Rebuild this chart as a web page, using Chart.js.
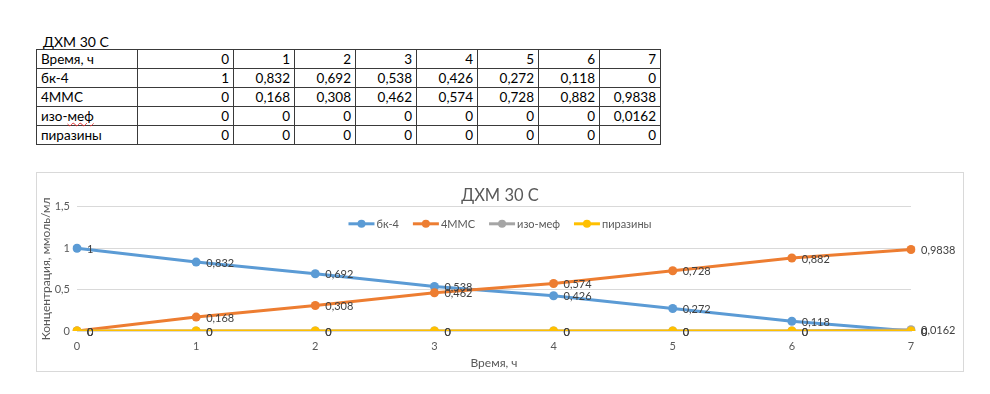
<!DOCTYPE html>
<html lang="ru">
<head>
    <meta charset="UTF-8">
    <title>ДХМ 30 С</title>
    <script src="https://cdn.jsdelivr.net/npm/chart.js"></script>
    <style>
        body { margin: 0; background: #fff; font-family: Lato, "Open Sans", sans-serif; }
        #sheetTitle { position: absolute; left: 43px; top: 33px; font-size: 14px; color: #000; }
        #dataTable { position: absolute; left: 36px; top: 49px; border-collapse: collapse; font-size: 13.5px; color: #000; }
        #dataTable td { border: 1px solid #3a3a3a; height: 18px; padding: 0 4px; white-space: nowrap; line-height: 18px; }
        #dataTable td.num { text-align: right; }
        .spell { text-decoration: underline wavy #e03030; text-decoration-thickness: 1px; }
        #chartBox { position: absolute; left: 36px; top: 172px; width: 926px; height: 198px; border: 1px solid #d9d9d9; }
    </style>
</head>
<body>
    <div id="sheetTitle">ДХМ 30 С</div>
    <table id="dataTable"></table>

    <div id="chartBox">
        <canvas id="concChart" width="926" height="198"></canvas>
    </div>

    <script>
        // данные из таблицы
        const chartTitle = 'ДХМ 30 С';
        const times = [0, 1, 2, 3, 4, 5, 6, 7];
        const seriesNames = ['бк-4', '4MMC', 'изо-меф', 'пиразины'];
        const bk4 = [1, 0.832, 0.692, 0.538, 0.426, 0.272, 0.118, 0];
        const mmc = [0, 0.168, 0.308, 0.462, 0.574, 0.728, 0.882, 0.9838];
        const isoMef = [0, 0, 0, 0, 0, 0, 0, 0.0162];
        const pyrazines = [0, 0, 0, 0, 0, 0, 0, 0];
        const yTicks = [0, 0.5, 1, 1.5];

        const seriesValues = [bk4, mmc, isoMef, pyrazines];
        const seriesColors = ['#5B9BD5', '#ED7D31', '#A5A5A5', '#FFC000'];

        const fmt = v => String(v).replace('.', ',');

        // таблица над графиком
        const table = document.getElementById('dataTable');
        const widths = [101, 96, 61, 61, 61, 61, 61, 61, 61];
        function addRow(label, values, html) {
            const tr = document.createElement('tr');
            const th = document.createElement('td');
            th.style.width = (widths[0] - 9) + 'px';
            if (html) th.innerHTML = html; else th.textContent = label;
            tr.appendChild(th);
            values.forEach((v, i) => {
                const td = document.createElement('td');
                td.className = 'num';
                td.style.width = (widths[i + 1] - 9) + 'px';
                td.textContent = fmt(v);
                tr.appendChild(td);
            });
            table.appendChild(tr);
        }
        addRow('Время, ч', times);
        addRow(seriesNames[0], bk4);
        addRow(seriesNames[1], mmc);
        addRow(seriesNames[2], isoMef, 'изо-<span class="spell">меф</span>');
        addRow(seriesNames[3], pyrazines);

        const labelFont = '11px Lato, sans-serif';

        // легенда как в Excel: линия с маркером, поверх области построения
        const excelLegend = {
            id: 'excelLegend',
            afterDraw(chart) {
                const ctx = chart.ctx;
                const iconW = 26, gap = 2, spacing = 14;
                ctx.save();
                ctx.font = labelFont;
                const items = chart.data.datasets.map(ds => ({
                    ds, w: iconW + gap + ctx.measureText(ds.label).width
                }));
                const total = items.reduce((s, it) => s + it.w, 0) + spacing * (items.length - 1);
                let x = chart.width / 2 - total / 2;
                const y = chart.chartArea.top + 17;
                items.forEach(it => {
                    ctx.strokeStyle = it.ds.borderColor;
                    ctx.fillStyle = it.ds.borderColor;
                    ctx.lineWidth = 3;
                    ctx.beginPath(); ctx.moveTo(x, y); ctx.lineTo(x + iconW, y); ctx.stroke();
                    ctx.beginPath(); ctx.arc(x + iconW / 2, y, 4, 0, Math.PI * 2); ctx.fill();
                    ctx.fillStyle = '#595959';
                    ctx.textAlign = 'left';
                    ctx.textBaseline = 'middle';
                    ctx.fillText(it.ds.label, x + iconW + gap, y + 1);
                    x += it.w + spacing;
                });
                ctx.restore();
            }
        };

        // подписи значений справа от точек
        const pointLabels = {
            id: 'pointLabels',
            afterDatasetsDraw(chart) {
                const ctx = chart.ctx;
                ctx.save();
                ctx.font = labelFont;
                ctx.fillStyle = '#404040';
                ctx.textAlign = 'left';
                ctx.textBaseline = 'middle';
                chart.data.datasets.forEach((ds, i) => {
                    chart.getDatasetMeta(i).data.forEach((pt, j) => {
                        ctx.fillText(fmt(ds.data[j]), pt.x + 10, pt.y + 1);
                    });
                });
                ctx.restore();
            }
        };

        const ctx = document.getElementById('concChart').getContext('2d');
        new Chart(ctx, {
            type: 'line',
            data: {
                labels: times,
                datasets: seriesNames.map((name, i) => ({
                    label: name,
                    data: seriesValues[i],
                    borderColor: seriesColors[i],
                    backgroundColor: seriesColors[i],
                    borderWidth: 3,
                    pointRadius: 4.5,
                    pointBorderWidth: 0,
                    tension: 0,
                    fill: false,
                    order: seriesNames.length - i
                }))
            },
            options: {
                responsive: false,
                devicePixelRatio: 1,
                animation: false,
                layout: { padding: 0 },
                plugins: {
                    title: {
                        display: true,
                        text: chartTitle,
                        color: '#595959',
                        font: { family: 'Lato', size: 16.5, weight: 'normal' },
                        padding: { top: 13, bottom: 1 }
                    },
                    legend: { display: false },
                    tooltip: { enabled: false }
                },
                scales: {
                    x: {
                        type: 'category',
                        offset: false,
                        afterFit(scale) { scale.height = 40; },
                        grid: { display: false, drawTicks: false },
                        border: { display: true, color: '#d9d9d9' },
                        ticks: { color: '#595959', font: { family: 'Lato', size: 11 }, padding: 9, maxRotation: 0 },
                        title: {
                            display: true,
                            text: 'Время, ч',
                            color: '#595959',
                            font: { family: 'Lato', size: 12 },
                            padding: { top: 0, bottom: 1 }
                        }
                    },
                    y: {
                        min: 0,
                        max: 1.5,
                        afterFit(scale) { scale.width = 40; },
                        afterBuildTicks(scale) { scale.ticks = yTicks.map(v => ({ value: v })); },
                        grid: { color: '#d9d9d9', drawTicks: false },
                        border: { display: false },
                        ticks: {
                            color: '#595959',
                            font: { family: 'Lato', size: 11 },
                            padding: 7,
                            callback: v => fmt(v)
                        },
                        title: {
                            display: true,
                            text: 'Концентрация, ммоль/мл',
                            color: '#595959',
                            font: { family: 'Lato', size: 12 },
                            padding: { top: 2, bottom: 0 }
                        }
                    },
                    // пустое место справа под подписи последних точек
                    rightSpace: {
                        position: 'right',
                        display: true,
                        afterFit(scale) { scale.width = 52; },
                        grid: { display: false, drawTicks: false },
                        border: { display: false },
                        ticks: { display: false }
                    }
                }
            },
            plugins: [pointLabels, excelLegend]
        });
    </script>
</body>
</html>
